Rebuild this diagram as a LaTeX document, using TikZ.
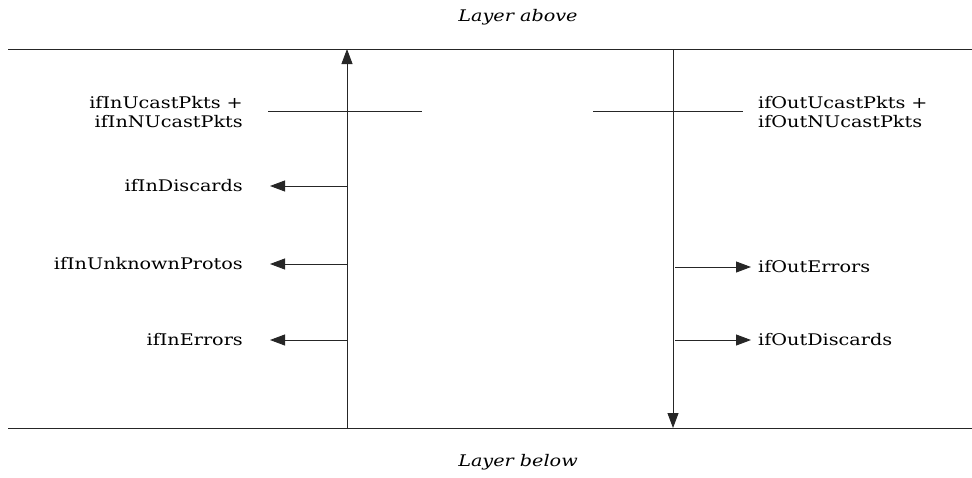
\documentclass[tikz,border=0pt]{standalone}
\usepackage{fontspec}
\setmainfont[FakeStretch=1.2]{DejaVu Serif}
\usetikzlibrary{arrows.meta}
\begin{document}
\begin{tikzpicture}[x=1pt,y=-1pt,
  ln/.style={line width=0.9pt, draw=black!85},
  arr/.style={ln, -{Triangle[length=15pt,width=11pt]}},
  lbl/.style={font=\fontsize{16}{19}\selectfont, inner sep=0pt, align=center},
  lblr/.style={lbl, anchor=east, align=right},
  lbll/.style={lbl, anchor=west, align=left},
  ital/.style={font=\fontsize{16}{19}\selectfont\itshape, inner sep=0pt}]
\useasboundingbox (0,0) rectangle (972,477);
% layer boundaries
\coordinate (tl) at (8,49); \coordinate (tr) at (972,49);
\coordinate (bl) at (8,428); \coordinate (br) at (972,428);
\draw[ln] (tl) -- (tr);
\draw[ln] (bl) -- (br);
\node[ital] (above) at (518,17) {Layer above};
\node[ital] (below) at (518,462) {Layer below};
% vertical flows
\coordinate (inB) at (347,428); \coordinate (inT) at (347,49);
\coordinate (outT) at (673,49); \coordinate (outB) at (673,428);
\draw[arr] (inB) -- (inT);
\draw[arr] (outT) -- (outB);
% crossing lines
\coordinate (c1a) at (268,111); \coordinate (c1b) at (422,111);
\coordinate (c2a) at (593,111); \coordinate (c2b) at (743,111);
\draw[ln] (c1a) -- (c1b);
\draw[ln] (c2a) -- (c2b);
% left labels
\node[lblr] (inU) at (243,112) {ifInUcastPkts +\\ifInNUcastPkts};
\node[lblr] (inD) at (243,186) {ifInDiscards};
\node[lblr] (inP) at (243,264) {ifInUnknownProtos};
\node[lblr] (inE) at (243,340) {ifInErrors};
% right labels
\node[lbll] (outU) at (758,112) {ifOutUcastPkts +\\ifOutNUcastPkts};
\node[lbll] (outE) at (758,267) {ifOutErrors};
\node[lbll] (outD) at (758,340) {ifOutDiscards};
% left arrows
\coordinate (s1) at (347,186); \coordinate (e1) at (270,186);
\coordinate (s2) at (347,264); \coordinate (e2) at (270,264);
\coordinate (s3) at (347,340); \coordinate (e3) at (270,340);
\draw[arr] (s1) -- (e1);
\draw[arr] (s2) -- (e2);
\draw[arr] (s3) -- (e3);
% right arrows
\coordinate (s4) at (675,267); \coordinate (e4) at (751,267);
\coordinate (s5) at (675,340); \coordinate (e5) at (751,340);
\draw[arr] (s4) -- (e4);
\draw[arr] (s5) -- (e5);
\end{tikzpicture}
\end{document}
